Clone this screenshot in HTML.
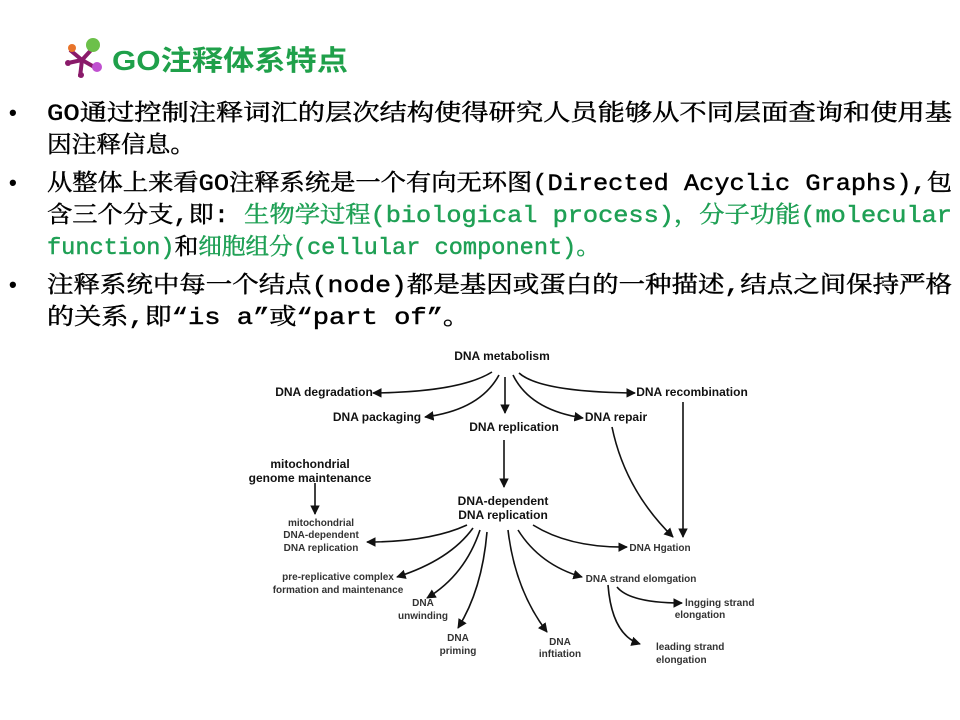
<!DOCTYPE html>
<html><head><meta charset="utf-8"><style>
html,body{margin:0;padding:0;background:#fff;}
svg{display:block;}
.t{font-family:"Liberation Mono","Noto Serif CJK SC",serif;font-size:23px;fill:#000;stroke:#000;stroke-width:0.45;}
.g{fill:#1fa055;stroke:#1fa055;}
.d{font-family:"Liberation Sans",Arial,sans-serif;font-weight:bold;fill:#111;text-anchor:middle;}
.b{font-size:12px;}
.s{font-size:10px;font-weight:bold;fill:#333;}
.a{fill:none;stroke:#111;stroke-width:1.6;marker-end:url(#ar);}
</style></head><body>
<svg width="960" height="720" viewBox="0 0 960 720" xmlns="http://www.w3.org/2000/svg">
<defs><marker id="ar" viewBox="0 0 10 10" refX="9" refY="5" markerWidth="6" markerHeight="6" orient="auto"><path d="M0,0 L10,5 L0,10 z" fill="#111"/></marker></defs>
<g>
<line x1="82" y1="60" x2="70" y2="50" stroke="#8a1a6a" stroke-width="4"/>
<line x1="82" y1="60" x2="93" y2="48" stroke="#8a1a6a" stroke-width="4"/>
<line x1="82" y1="60" x2="96" y2="68" stroke="#8a1a6a" stroke-width="4"/>
<line x1="82" y1="60" x2="80" y2="77" stroke="#8a1a6a" stroke-width="4"/>
<line x1="82" y1="60" x2="68" y2="63" stroke="#8a1a6a" stroke-width="4"/>
<circle cx="93" cy="45" r="7" fill="#6cc04a"/>
<circle cx="72" cy="48" r="4" fill="#e8742a"/>
<circle cx="97" cy="67" r="5" fill="#c050d0"/>
<circle cx="81" cy="75" r="3" fill="#8a1a6a"/>
<circle cx="68" cy="63" r="3" fill="#8a1a6a"/>
</g>
<text x="112" y="70" font-family="Liberation Sans,'Noto Sans CJK SC',sans-serif" font-weight="bold" font-size="28" fill="#1fa04a" textLength="236" lengthAdjust="spacingAndGlyphs">GO注释体系特点</text>
<g font-family="Liberation Sans" font-size="22" font-weight="bold"><text x="9" y="120">•</text><text x="9" y="190">•</text><text x="9" y="292">•</text></g>
<text class="t" x="47" y="120" textLength="905" lengthAdjust="spacingAndGlyphs">GO通过控制注释词汇的层次结构使得研究人员能够从不同层面查询和使用基</text>
<text class="t" x="47" y="152" textLength="148" lengthAdjust="spacingAndGlyphs">因注释信息。</text>
<text class="t" x="47" y="190" textLength="905" lengthAdjust="spacingAndGlyphs">从整体上来看GO注释系统是一个有向无环图(Directed Acyclic Graphs),包</text>
<text class="t" x="47" y="222" textLength="905" lengthAdjust="spacingAndGlyphs">含三个分支,即: <tspan class="g">生物学过程(biological process)，分子功能(molecular</tspan></text>
<text class="t" x="47" y="254" textLength="553" lengthAdjust="spacingAndGlyphs"><tspan class="g">function)</tspan>和<tspan class="g">细胞组分(cellular component)。</tspan></text>
<text class="t" x="47" y="292" textLength="905" lengthAdjust="spacingAndGlyphs">注释系统中每一个结点(node)都是基因或蛋白的一种描述,结点之间保持严格</text>
<text class="t" x="47" y="324" textLength="423" lengthAdjust="spacingAndGlyphs">的关系,即“is a”或“part of”。</text>
<g class="d b">
<text x="502" y="360">DNA metabolism</text>
<text x="324" y="396">DNA degradation</text>
<text x="377" y="421">DNA packaging</text>
<text x="514" y="431">DNA replication</text>
<text x="616" y="421">DNA repair</text>
<text x="692" y="396">DNA recombination</text>
<text x="310" y="468">mitochondrial</text>
<text x="310" y="482">genome maintenance</text>
<text x="503" y="505">DNA-dependent</text>
<text x="503" y="519">DNA replication</text>
</g>
<g class="d s">
<text x="321" y="526">mitochondrial</text>
<text x="321" y="538">DNA-dependent</text>
<text x="321" y="551">DNA replication</text>
<text x="660" y="551">DNA Hgation</text>
<text x="338" y="580">pre-replicative complex</text>
<text x="338" y="593">formation and maintenance</text>
<text x="423" y="606">DNA</text>
<text x="423" y="619">unwinding</text>
<text x="458" y="641">DNA</text>
<text x="458" y="654">priming</text>
<text x="560" y="645">DNA</text>
<text x="560" y="657">inftiation</text>
<text x="641" y="582">DNA strand elomgation</text>
<text x="685" y="606" text-anchor="start">lngging strand</text>
<text x="700" y="618">elongation</text>
<text x="656" y="650" text-anchor="start">leading strand</text>
<text x="656" y="663" text-anchor="start">elongation</text>
</g>
<g>
<path class="a" d="M492,372 Q460,392 373,393"/>
<path class="a" d="M499,375 Q480,410 425,417"/>
<path class="a" d="M505,377 L505,413"/>
<path class="a" d="M513,375 Q530,410 583,418"/>
<path class="a" d="M519,373 Q540,392 635,393"/>
<path class="a" d="M683,402 L683,537"/>
<path class="a" d="M612,427 Q625,490 673,537"/>
<path class="a" d="M504,440 L504,487"/>
<path class="a" d="M315,483 L315,514"/>
<path class="a" d="M467,525 Q430,542 367,542"/>
<path class="a" d="M473,528 Q450,560 397,577"/>
<path class="a" d="M480,530 Q465,575 427,598"/>
<path class="a" d="M487,532 Q482,590 458,628"/>
<path class="a" d="M508,530 Q515,590 547,632"/>
<path class="a" d="M518,530 Q540,565 582,577"/>
<path class="a" d="M533,525 Q570,548 627,547"/>
<path class="a" d="M617,587 Q630,603 682,603"/>
<path class="a" d="M608,585 Q612,635 640,644"/>
</g>
</svg>
</body></html>
